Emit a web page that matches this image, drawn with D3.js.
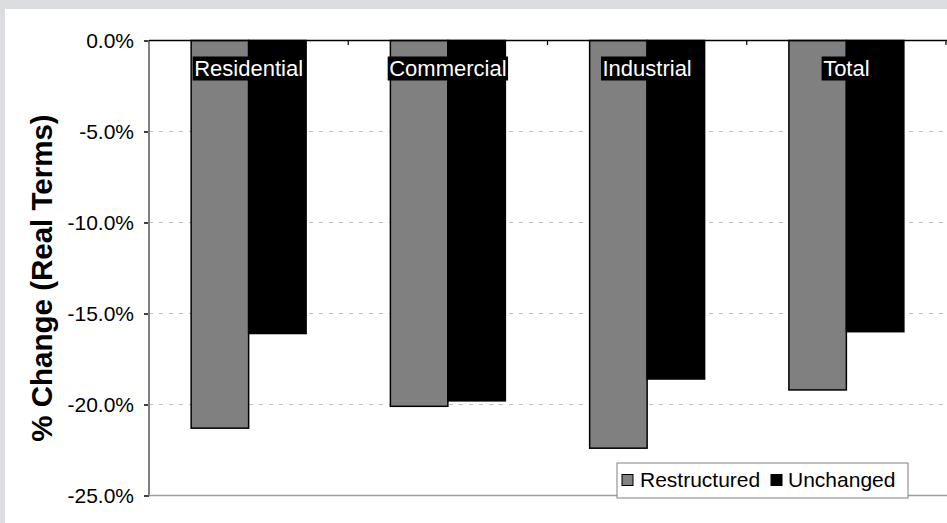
<!DOCTYPE html>
<html><head><meta charset="utf-8">
<script src="https://cdn.jsdelivr.net/npm/d3@7"></script>
<style>
html,body{margin:0;padding:0;background:#dcdde0;}
svg{display:block;}
text{font-family:"Liberation Sans",Arial,sans-serif;}
</style></head>
<body>
<svg id="chart" width="947" height="523"></svg>
<script>
const categories = ["Residential", "Commercial", "Industrial", "Total"];
const seriesNames = ["Restructured", "Unchanged"];
const restructured = [-21.3, -20.1, -22.4, -19.2];
const unchanged = [-16.1, -19.8, -18.6, -16.0];
const yTicks = [0, -5, -10, -15, -20, -25];
const colors = ["#808080", "#000000"];

(function () {
const svg = d3.select("#chart");
svg.append("rect").attr("x", 5).attr("y", 9).attr("width", 942).attr("height", 514).attr("fill", "#ffffff");

const pLeft = 149, pRight = 946, pTop = 40.5, pBottom = 495.5;
const x0 = d3.scaleBand().domain(categories).range([pLeft, pRight]).paddingInner(0.423).paddingOuter(0.2115);
const x1 = d3.scaleBand().domain(seriesNames).range([0, x0.bandwidth()]);
const y = d3.scaleLinear().domain([-25, 0]).range([pBottom, pTop]);

// gridlines
svg.append("g").selectAll("line").data(yTicks.filter(t => t !== 0 && t !== -25)).join("line")
  .attr("x1", pLeft).attr("x2", 947).attr("y1", d => y(d)).attr("y2", d => y(d))
  .attr("stroke", "#c0c0c0").attr("stroke-width", 1).attr("stroke-dasharray", "4,6");
// bottom border
svg.append("line").attr("x1", pLeft).attr("x2", 947).attr("y1", y(-25)).attr("y2", y(-25))
  .attr("stroke", "#a0a0a0").attr("stroke-width", 1.5);

// bars
const data = categories.map((c, i) => ({cat: c, vals: [restructured[i], unchanged[i]]}));
const groups = svg.append("g").selectAll("g").data(data).join("g")
  .attr("transform", d => `translate(${x0(d.cat)},0)`);
groups.selectAll("rect").data(d => d.vals.map((v, j) => ({v, s: seriesNames[j], j}))).join("rect")
  .attr("x", d => x1(d.s)).attr("width", x1.bandwidth())
  .attr("y", y(0)).attr("height", d => y(d.v) - y(0))
  .attr("fill", d => colors[d.j]).attr("stroke", "#000").attr("stroke-width", 1.5);

// y axis
const yAxis = d3.axisLeft(y).tickValues(yTicks).tickSize(5).tickPadding(10)
  .tickFormat(d => d.toFixed(1) + "%");
const ya = svg.append("g").attr("transform", `translate(${pLeft},0)`).call(yAxis);
ya.select(".domain").remove();
ya.selectAll(".tick line").attr("stroke", "#000").attr("stroke-width", 1.5);
ya.selectAll(".tick text").attr("font-size", 21).attr("fill", "#000").attr("font-family", "Liberation Sans, Arial, sans-serif");
svg.append("line").attr("x1", pLeft).attr("x2", pLeft).attr("y1", pTop).attr("y2", pBottom)
  .attr("stroke", "#808080").attr("stroke-width", 2);

// top axis line at 0 with category ticks
svg.append("line").attr("x1", pLeft).attr("x2", 947).attr("y1", y(0)).attr("y2", y(0))
  .attr("stroke", "#000").attr("stroke-width", 1.5);
const catBounds = categories.map(c => x0(c) - x0.step() * x0.paddingInner() / 2 + x0.step());
svg.append("g").selectAll("line").data(catBounds).join("line")
  .attr("x1", d => d).attr("x2", d => d).attr("y1", y(0)).attr("y2", y(0) + 4.5)
  .attr("stroke", "#000").attr("stroke-width", 1.2);

// category labels (white on black)
const labs = svg.append("g").selectAll("g").data(categories).join("g");
labs.each(function(c) {
  const g = d3.select(this);
  const cx = x0(c) + x0.bandwidth() / 2;
  const t = g.append("text").attr("x", cx).attr("y", 76).attr("text-anchor", "middle")
    .attr("font-size", 22).attr("fill", "#fff").text(c);
  const b = t.node().getBBox();
  g.insert("rect", "text").attr("x", b.x - 1.5).attr("y", 56.5).attr("width", b.width + 3).attr("height", 24).attr("fill", "#000");
});

// y title
svg.append("text").attr("transform", "translate(52,278) rotate(-90)").attr("text-anchor", "middle")
  .attr("font-size", 29.5).attr("font-weight", "bold").attr("fill", "#000").text("% Change (Real Terms)");

// legend
const lg = svg.append("g");
lg.append("rect").attr("x", 617).attr("y", 463).attr("width", 291).attr("height", 35)
  .attr("fill", "#fff").attr("stroke", "#808080").attr("stroke-width", 1);
const legendItems = [{n: seriesNames[0], c: colors[0], sx: 622, tx: 640}, {n: seriesNames[1], c: colors[1], sx: 771, tx: 788}];
legendItems.forEach(it => {
  lg.append("rect").attr("x", it.sx).attr("y", 474.5).attr("width", 11).attr("height", 11)
    .attr("fill", it.c).attr("stroke", "#000").attr("stroke-width", 1);
  lg.append("text").attr("x", it.tx).attr("y", 487).attr("font-size", 21).attr("fill", "#000").text(it.n);
});
})();
</script>
</body></html>
